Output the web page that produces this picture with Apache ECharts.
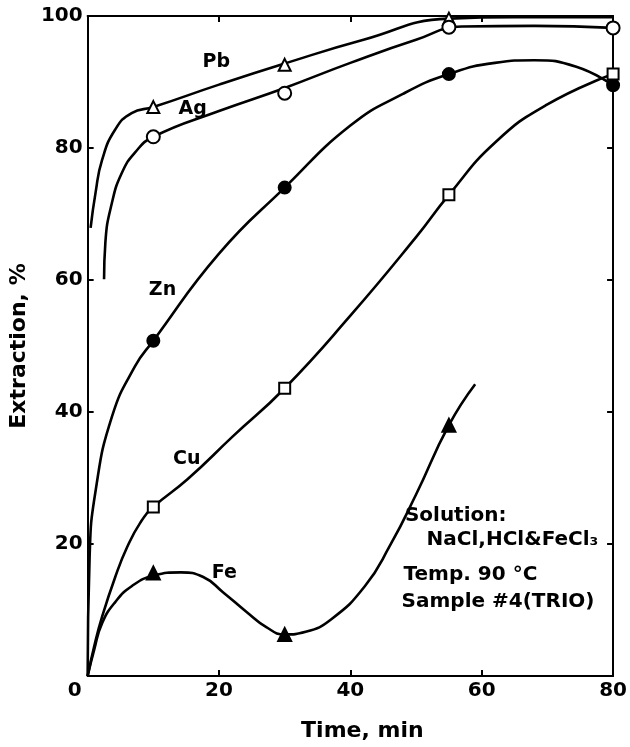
<!DOCTYPE html>
<html>
<head>
<meta charset="utf-8">
<script src="https://cdn.jsdelivr.net/npm/echarts@6/dist/echarts.min.js"></script>
<style>
  html, body { margin: 0; padding: 0; background: #fff; }
  #chart { width: 630px; height: 747px; }
</style>
</head>
<body>
<div id="chart"></div>
<script>
// Axis ticks
const xTicks = [0, 20, 40, 60, 80];
const yTicks = [0, 20, 40, 60, 80, 100];

// Measured extraction (%) at sampling times (min)
const pbPoints = [[10, 86.2], [30, 92.6], [55, 99.6]];
const agPoints = [[10, 81.7], [30, 88.3], [55, 98.3], [80, 98.2]];
const znPoints = [[10, 50.8], [30, 74.0], [55, 91.2], [80, 89.5]];
const cuPoints = [[10, 25.6], [30, 43.6], [55, 72.9], [80, 91.2]];
const fePoints = [[10, 15.6], [30, 6.3], [55, 38.0]];

// Fitted curves, traced as [time, extraction] pairs
const pbCurve = [[0.45, 67.9], [1.2, 73.2], [2.2, 78.2], [4.2, 82.8], [6.7, 85.3], [10, 86.2],
  [20, 89.6], [30, 92.8], [42, 96.4], [55, 99.6], [65, 99.8], [80, 99.8]];
const agCurve = [[2.5, 60.1], [2.7, 65.7], [3.7, 71.7], [5.2, 76.2], [7.2, 79.3], [10, 81.7],
  [20, 85.6], [30, 89.1], [40, 92.9], [50, 96.4], [57, 98.4], [68, 98.5], [80, 98.2]];
const znCurve = [[0, 0], [0.3, 18], [1.2, 28], [3.7, 39.3], [7.2, 46.9], [10, 50.8],
  [20, 64.0], [30, 74.0], [40, 83.4], [48, 88.2], [55, 91.2], [62, 92.9], [68, 93.3],
  [74.4, 92.3], [80, 89.5]];
const cuCurve = [[0, 0], [1, 4.5], [2.2, 9], [4.2, 15], [6, 19.5], [8, 23.2], [10, 25.6],
  [15.2, 29.8], [22.1, 36.3], [30, 43.6], [40, 54.6], [50, 66.5], [55, 72.9], [62, 80.8],
  [70, 86.6], [80, 91.2]];
const feCurve = [[0, 0], [1, 4], [2.2, 8], [4.2, 11.2], [6.7, 13.6], [10, 15.2], [14.2, 15.7],
  [17.6, 15.0], [20.6, 12.7], [24.2, 9.7], [27.2, 7.4], [30, 6.3], [33.2, 6.7], [37.1, 8.6],
  [42.2, 13.6], [46, 19.7], [50, 27.5], [55, 38.0], [59, 44.2]];

// Text annotations anchored in data coordinates
const notes = [
  { text: 'Pb', t: 19.6, v: 93.0, align: 'center', size: 19 },
  { text: 'Ag', t: 16.0, v: 85.9, align: 'center', size: 19 },
  { text: 'Zn', t: 11.4, v: 58.4, align: 'center', size: 19 },
  { text: 'Cu', t: 15.1, v: 32.8, align: 'center', size: 19 },
  { text: 'Fe', t: 20.8, v: 15.6, align: 'center', size: 19 },
  { text: 'Solution:', t: 48.3, v: 24.2, align: 'left', size: 20 },
  { text: 'NaCl,HCl&FeCl\u2083', t: 51.6, v: 20.6, align: 'left', size: 20 },
  { text: 'Temp. 90 \u00B0C', t: 48.1, v: 15.4, align: 'left', size: 20 },
  { text: 'Sample #4(TRIO)', t: 47.8, v: 11.2, align: 'left', size: 20 }
];

const FONT = '"DejaVu Sans", "Liberation Sans", sans-serif';
const INK = '#000';

function curveSeries(data) {
  return {
    type: 'line', data: data, showSymbol: false, smooth: 0.5,
    lineStyle: { color: INK, width: 2.6 }, z: 2, silent: true
  };
}
function markSeries(data, symbol, size, filled) {
  return {
    type: 'scatter', data: data, symbol: symbol, symbolSize: size, z: 3, silent: true,
    itemStyle: { color: filled ? INK : '#fff', borderColor: INK, borderWidth: 2, opacity: 1 }
  };
}

function axis(extra) {
  return Object.assign({
    type: 'value', min: 0, interval: 20,
    axisLine: { show: true, onZero: false, lineStyle: { color: INK, width: 2 } },
    axisTick: { show: true, inside: true, length: 6, lineStyle: { color: INK, width: 2 } },
    splitLine: { show: false }
  }, extra);
}

const chart = echarts.init(document.getElementById('chart'), null, { renderer: 'canvas' });
chart.setOption({
  animation: false,
  backgroundColor: '#fff',
  grid: { left: 85, right: 10, top: 16, bottom: 70, show: false },
  xAxis: [
    axis({
      max: xTicks[xTicks.length - 1], position: 'bottom',
      name: 'Time, min', nameLocation: 'middle', nameGap: 44,
      nameTextStyle: { color: INK, fontFamily: FONT, fontWeight: 'bold', fontSize: 22, padding: [0, 0, 0, 24] },
      axisLabel: {
        color: INK, fontFamily: FONT, fontWeight: 'bold', fontSize: 20, margin: 5,
        formatter: function (v) { return v === 0 ? '{z|0}' : String(v); },
        rich: { z: { color: INK, fontFamily: FONT, fontWeight: 'bold', fontSize: 20, padding: [0, 26, 0, 0] } }
      }
    }),
    axis({ max: xTicks[xTicks.length - 1], position: 'top', axisLabel: { show: false } })
  ],
  yAxis: [
    axis({
      max: yTicks[yTicks.length - 1], position: 'left',
      name: 'Extraction, %', nameLocation: 'middle', nameGap: 53, nameRotate: 90,
      nameTextStyle: { color: INK, fontFamily: FONT, fontWeight: 'bold', fontSize: 22 },
      axisLabel: {
        color: INK, fontFamily: FONT, fontWeight: 'bold', fontSize: 20, margin: 5,
        formatter: function (v) { return v === 0 ? '' : String(v); }
      }
    }),
    axis({ max: yTicks[yTicks.length - 1], position: 'right', axisLabel: { show: false } })
  ],
  series: [
    curveSeries(pbCurve), curveSeries(agCurve), curveSeries(znCurve),
    curveSeries(cuCurve), curveSeries(feCurve),
    markSeries(pbPoints, 'triangle', 12, false),
    markSeries(agPoints, 'circle', 13, false),
    markSeries(znPoints, 'circle', 12, true),
    markSeries(cuPoints, 'rect', 11, false),
    markSeries(fePoints, 'triangle', 13, true)
  ]
});

// Place annotations through the grid's coordinate system
const graphics = notes.map(function (n) {
  const p = chart.convertToPixel({ gridIndex: 0 }, [n.t, n.v]);
  return {
    type: 'text', x: p[0], y: p[1], z: 10, silent: true,
    style: {
      text: n.text, fill: INK, align: n.align, verticalAlign: 'middle',
      font: 'bold ' + n.size + 'px ' + FONT
    }
  };
});
chart.setOption({ graphic: graphics });
</script>
</body>
</html>
